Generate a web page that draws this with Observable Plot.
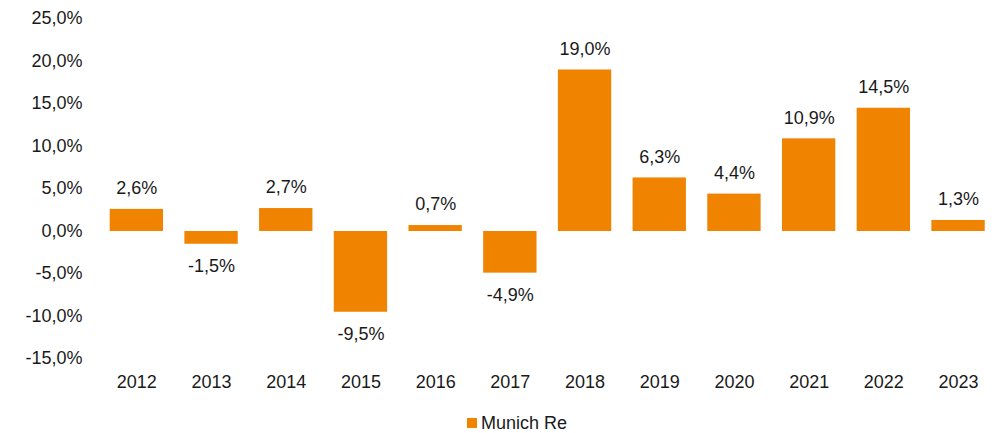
<!DOCTYPE html>
<html><head><meta charset="utf-8">
<script src="https://cdn.jsdelivr.net/npm/d3@7"></script>
<script src="https://cdn.jsdelivr.net/npm/@observablehq/plot@0.6"></script>
<style>
body{margin:0;background:#fff;font-family:"Liberation Sans",Arial,sans-serif;}
#legend{position:relative;height:33px;font-size:18px;color:#1a1a1a;}
#legend .item{position:absolute;left:467px;top:12px;display:flex;align-items:center;height:22px;}
#legend span.sw{display:inline-block;width:10px;height:10px;background:#F08300;margin-right:4px;}
</style></head>
<body>
<div id="chart"></div>
<div id="legend"><div class="item"><span class="sw"></span><span>Munich Re</span></div></div>
<script>
const years = ["2012","2013","2014","2015","2016","2017","2018","2019","2020","2021","2022","2023"];
const values = [2.6, -1.5, 2.7, -9.5, 0.7, -4.9, 19.0, 6.3, 4.4, 10.9, 14.5, 1.3];
const yTicks = [-15, -10, -5, 0, 5, 10, 15, 20, 25];
const seriesName = "Munich Re";

const data = years.map((y, i) => ({year: y, value: values[i]}));
const fmt = d3.formatLocale({decimal: ",", thousands: ".", grouping: [3], currency: ["", "€"], minus: "-"}).format(".1f");
const pct = v => fmt(v) + "%";

const plot = Plot.plot({
  width: 999,
  height: 400,
  marginLeft: 99,
  marginRight: 3.6,
  marginTop: 18.5,
  marginBottom: 41.5,
  style: {fontFamily: "'Liberation Sans', Arial, sans-serif", fontSize: "18px", color: "#1a1a1a", background: "#fff"},
  x: {domain: years, paddingInner: 0.286, paddingOuter: 0.143, round: false, label: null},
  y: {domain: [-15, 25], label: null},
  marks: [
    Plot.axisY({ticks: yTicks, tickFormat: pct, tickSize: 0, tickPadding: 17, fontSize: 18, dy: -0.5, label: null}),
    Plot.axisX({tickSize: 0, tickPadding: 16, fontSize: 18, label: null}),
    Plot.barY(data, {x: "year", y: "value", fill: "#F08300"}),
    Plot.text(data.filter(d => d.value >= 0), {x: "year", y: "value", text: d => pct(d.value), dy: -21, fontSize: 18, fill: "#1a1a1a"}),
    Plot.text(data.filter(d => d.value < 0), {x: "year", y: "value", text: d => pct(d.value), dy: 22, fontSize: 18, fill: "#1a1a1a"})
  ]
});
document.getElementById("chart").appendChild(plot);
</script>
</body></html>
